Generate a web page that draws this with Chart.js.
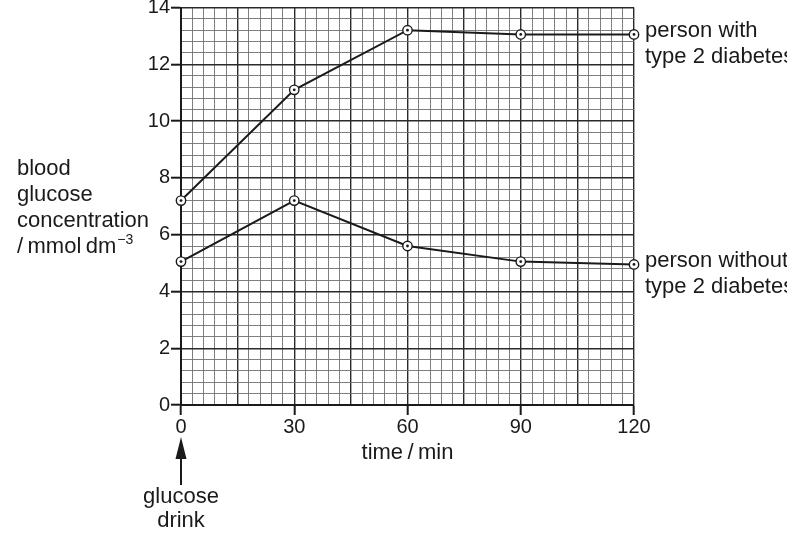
<!DOCTYPE html>
<html>
<head>
<meta charset="utf-8">
<script src="https://cdn.jsdelivr.net/npm/chart.js@4.4.1/dist/chart.umd.min.js"></script>
<style>
    html, body { margin: 0; padding: 0; background: #fff; }
    #wrap { width: 787px; height: 540px; position: relative; }
</style>
</head>
<body>
<div id="wrap"><canvas id="chart"></canvas></div>
<script>
// values
const times = [0, 30, 60, 90, 120];
const withDiabetes = [7.2, 11.1, 13.2, 13.05, 13.05];
const withoutDiabetes = [5.05, 7.2, 5.6, 5.05, 4.95];

const xLabels = [0, 30, 60, 90, 120];
const yLabels = [0, 2, 4, 6, 8, 10, 12, 14];

const yTitle = ['blood', 'glucose', 'concentration', '/\u2009mmol\u2009dm'];
const seriesLabels = [
    ['person with', 'type 2 diabetes'],
    ['person without', 'type 2 diabetes']
];

const FONT = '"Liberation Sans", Arial, sans-serif';
const INK = '#1a1a1a';

function isNear(v, list) {
    return list.some(l => Math.abs(v - l) < 1e-6);
}

function isMultiple(v, step) {
    return Math.abs(v / step - Math.round(v / step)) < 1e-6;
}

function toPoints(values) {
    return times.map((t, i) => ({ x: t, y: values[i] }));
}

// little dot inside each ring marker + free text around the grid
const decorations = {
    id: 'decorations',
    afterDatasetsDraw(chart) {
        const ctx = chart.ctx;
        ctx.save();
        ctx.fillStyle = INK;
        chart.data.datasets.forEach((ds, i) => {
            chart.getDatasetMeta(i).data.forEach(pt => {
                ctx.beginPath();
                ctx.arc(pt.x, pt.y, 1.4, 0, Math.PI * 2);
                ctx.fill();
            });
        });
        ctx.restore();
    },
    afterDraw(chart) {
        const ctx = chart.ctx;
        const area = chart.chartArea;
        const x = chart.scales.x;
        ctx.save();
        ctx.fillStyle = INK;
        ctx.strokeStyle = INK;
        ctx.font = '22px ' + FONT;
        ctx.textBaseline = 'alphabetic';

        // series labels at the line ends
        ctx.textAlign = 'left';
        chart.data.datasets.forEach((ds, i) => {
            const meta = chart.getDatasetMeta(i);
            const last = meta.data[meta.data.length - 1];
            ctx.fillText(seriesLabels[i][0], area.right + 11, last.y + 3);
            ctx.fillText(seriesLabels[i][1], area.right + 11, last.y + 29);
        });

        // y axis title, written flat on the left
        yTitle.forEach((line, i) => {
            ctx.fillText(line, 17, 175 + i * 26);
        });
        const w = ctx.measureText(yTitle[yTitle.length - 1]).width;
        ctx.font = '14px ' + FONT;
        ctx.fillText('\u22123', 17 + w + 1, 175 + 3 * 26 - 9);

        // x axis title
        ctx.font = '22px ' + FONT;
        ctx.textAlign = 'center';
        ctx.fillText('time\u2009/\u2009min', (area.left + area.right) / 2, 459);

        // arrow for the glucose drink
        const ax = x.getPixelForValue(0);
        ctx.lineWidth = 2;
        ctx.beginPath();
        ctx.moveTo(ax, 456);
        ctx.lineTo(ax, 485);
        ctx.stroke();
        ctx.beginPath();
        ctx.moveTo(ax, 437);
        ctx.lineTo(ax - 5.5, 459);
        ctx.lineTo(ax + 5.5, 459);
        ctx.closePath();
        ctx.fill();
        ctx.fillText('glucose', ax, 503);
        ctx.fillText('drink', ax, 527);
        ctx.restore();
    }
};

function lineSet(values) {
    return {
        data: toPoints(values),
        borderColor: INK,
        borderWidth: 2,
        tension: 0,
        fill: false,
        clip: false,
        pointStyle: 'circle',
        pointRadius: 4.7,
        pointBorderWidth: 1.4,
        pointBorderColor: INK,
        pointBackgroundColor: '#fff'
    };
}

new Chart(document.getElementById('chart'), {
    type: 'line',
    data: {
        datasets: [lineSet(withDiabetes), lineSet(withoutDiabetes)]
    },
    options: {
        responsive: true,
        maintainAspectRatio: false,
        animation: false,
        layout: {
            autoPadding: false,
            padding: { left: 0, right: 153, top: 7.5, bottom: 0 }
        },
        plugins: {
            legend: { display: false },
            tooltip: { enabled: false }
        },
        scales: {
            x: {
                type: 'linear',
                min: 0,
                max: 120,
                afterFit: s => {
                    s.height = 135;
                    s.paddingLeft = 0;
                    s.paddingRight = 0;
                },
                border: { display: true, color: INK, width: 2 },
                grid: {
                    drawTicks: true,
                    tickLength: 10,
                    color: c => isMultiple(c.tick.value, 15) ? '#2a2a2a' : '#707070',
                    lineWidth: c => isMultiple(c.tick.value, 15) ? 1.4 : 0.9,
                    tickColor: c => isNear(c.tick.value, xLabels) ? INK : 'rgba(0,0,0,0)',
                    tickWidth: 2
                },
                ticks: {
                    stepSize: 3,
                    autoSkip: false,
                    maxRotation: 0,
                    maxTicksLimit: 100,
                    padding: 0,
                    color: INK,
                    font: { family: FONT, size: 20 },
                    callback: v => isNear(v, xLabels) ? String(Math.round(v)) : ''
                }
            },
            y: {
                type: 'linear',
                min: 0,
                max: 14,
                afterFit: s => {
                    s.width = 181;
                    s.paddingTop = 0;
                    s.paddingBottom = 0;
                },
                border: { display: true, color: INK, width: 2 },
                grid: {
                    drawTicks: true,
                    tickLength: 10,
                    color: c => isMultiple(c.tick.value, 2) ? '#2a2a2a' : '#707070',
                    lineWidth: c => isMultiple(c.tick.value, 2) ? 1.4 : 0.9,
                    tickColor: c => isNear(c.tick.value, yLabels) ? INK : 'rgba(0,0,0,0)',
                    tickWidth: 2
                },
                ticks: {
                    stepSize: 0.4,
                    autoSkip: false,
                    maxTicksLimit: 100,
                    padding: 1,
                    color: INK,
                    font: { family: FONT, size: 20 },
                    callback: v => isNear(v, yLabels) ? String(Math.round(v)) : ''
                }
            }
        }
    },
    plugins: [decorations]
});
</script>
</body>
</html>
